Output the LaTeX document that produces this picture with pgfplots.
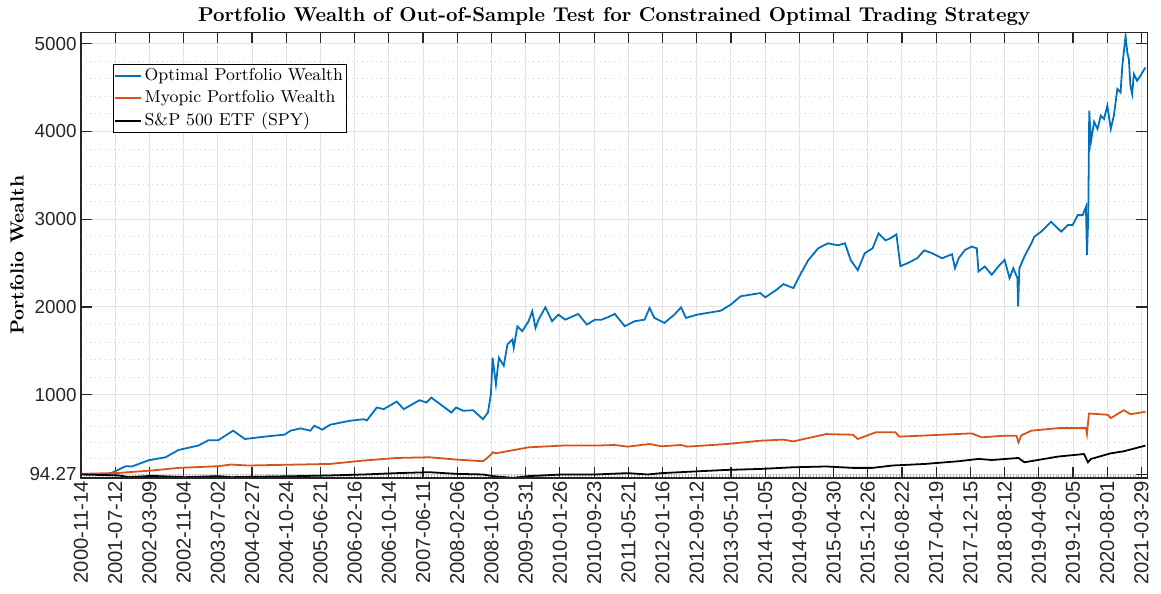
\documentclass[border=0pt]{standalone}
\usepackage{fontspec}
\usepackage{pgfplots}
\pgfplotsset{compat=1.18}
\newfontfamily\tickfont{Liberation Sans}

\definecolor{mblue}{rgb}{0,0.447,0.741}
\definecolor{morange}{rgb}{0.85,0.325,0.098}
\definecolor{axgray}{rgb}{0.15,0.15,0.15}

% day 0 = 2000-11-14, ticks every 240 days
\pgfplotstableread{
day val
0 94
197 94
313 185
357 182
475 253
593 287
684 370
823 420
893 480
962 480
1067 590
1150 495
1289 522
1428 545
1470 590
1540 616
1609 590
1637 647
1692 601
1748 658
1887 703
1985 721
2006 707
2075 854
2124 835
2215 922
2264 835
2375 937
2424 911
2458 967
2514 899
2598 797
2632 854
2681 817
2751 823
2820 721
2855 797
2876 1005
2888 1421
2911 1118
2932 1421
2966 1330
2992 1572
3027 1629
3036 1534
3062 1780
3096 1724
3140 1837
3166 1951
3189 1761
3210 1855
3258 1996
3305 1837
3349 1912
3398 1855
3488 1920
3549 1799
3606 1855
3653 1855
3697 1883
3745 1920
3815 1780
3884 1837
3954 1855
3989 1988
4023 1875
4093 1818
4163 1912
4210 1996
4244 1875
4323 1912
4393 1931
4488 1957
4558 2025
4627 2121
4766 2158
4801 2109
4880 2196
4929 2260
4998 2215
5033 2328
5102 2532
5172 2668
5241 2725
5311 2702
5360 2725
5401 2532
5450 2419
5499 2612
5554 2668
5596 2838
5645 2759
5679 2782
5721 2827
5749 2464
5798 2498
5867 2555
5916 2645
5972 2612
6042 2555
6111 2600
6132 2441
6158 2555
6202 2649
6250 2688
6285 2668
6297 2404
6341 2461
6390 2366
6436 2461
6480 2536
6515 2328
6541 2441
6570 2328
6575 2007
6584 2441
6619 2574
6668 2725
6689 2801
6737 2858
6807 2971
6842 2914
6877 2858
6923 2933
6958 2933
6993 3046
7028 3046
7051 3141
7058 2592
7067 3009
7074 4237
7086 3882
7108 4109
7132 4029
7155 4180
7178 4143
7201 4293
7225 4029
7247 4180
7271 4483
7294 4445
7306 4747
7329 5087
7341 4899
7352 4823
7363 4520
7375 4426
7387 4653
7410 4577
7433 4634
7468 4729
}\optimal

\pgfplotstableread{
day val
0 98
266 109
496 136
684 166
962 185
1053 204
1171 193
1519 204
1748 211
1985 250
2215 279
2444 287
2632 261
2820 242
2862 295
2890 344
2911 332
3140 400
3377 420
3606 420
3745 427
3836 408
3989 438
4072 412
4211 427
4253 408
4532 438
4768 476
4928 488
4998 468
5228 551
5416 544
5450 495
5575 571
5714 571
5742 522
6042 544
6250 559
6320 514
6480 533
6564 533
6577 457
6598 537
6668 590
6856 619
7051 619
7058 551
7072 786
7204 771
7225 733
7316 823
7363 778
7468 805
}\myopic

\pgfplotstableread{
day val
0 91
266 80
336 60
496 75
733 60
962 72
1053 60
1519 72
1748 80
1985 91
2215 106
2444 117
2632 98
2820 91
2890 72
3029 52
3140 72
3377 91
3606 91
3836 106
3975 91
4072 106
4302 125
4532 143
4768 154
4998 173
5228 182
5416 166
5554 166
5693 193
5922 211
6158 242
6297 268
6390 256
6577 279
6619 230
6856 295
7037 324
7065 230
7086 268
7225 332
7316 355
7468 420
}\spy

\pgfplotsset{
  common/.style={
    scale only axis,
    width=537.7pt, height=224.7pt,
    xmin=0, xmax=7482,
    ymin=50, ymax=5128,
    xtick={0,240,...,7440},
    ytick={94.27,1000,2000,3000,4000,5000},
    axis line style={axgray, line width=0.6pt},
    major tick length=5.5pt,
    tick style={axgray, line width=0.6pt},
    tick align=inside,
  },
}

\begin{document}
\begin{tikzpicture}
\begin{axis}[
  common,
  name=main,
  xtick pos=left, ytick pos=left,
  xticklabels={2000-11-14,2001-07-12,2002-03-09,2002-11-04,2003-07-02,2004-02-27,2004-10-24,2005-06-21,2006-02-16,2006-10-14,2007-06-11,2008-02-06,2008-10-03,2009-05-31,2010-01-26,2010-09-23,2011-05-21,2012-01-16,2012-09-12,2013-05-10,2014-01-05,2014-09-02,2015-04-30,2015-12-26,2016-08-22,2017-04-19,2017-12-15,2018-08-12,2019-04-09,2019-12-05,2020-08-01,2021-03-29},
  yticklabels={94.27,1000,2000,3000,4000,5000},
  /pgf/number format/assume math mode=true,
  ticklabel style={text=axgray},
  xticklabel style={font=\tickfont\fontsize{10.2}{12}\selectfont, rotate=90, anchor=east, inner sep=1.5pt},
  yticklabel style={font=\tickfont\fontsize{9.5}{11}\selectfont, inner sep=2pt},
  minor x tick num=11,
  minor tick length=2.2pt,
  minor x tick style={gray!55, line width=0.35pt},
  minor ytick={275.42,456.56,637.71,818.85,1200,1400,1600,1800,2200,2400,2600,2800,3200,3400,3600,3800,4200,4400,4600,4800},
  minor y tick style={draw=none},
  xmajorgrids=true, ymajorgrids=true, yminorgrids=true, xminorgrids=false,
  major grid style={gray!22, line width=0.5pt},
  minor grid style={gray!35, line width=0.4pt, dotted},
  title={Portfolio Wealth of Out-of-Sample Test for Constrained Optimal Trading Strategy},
  title style={font=\bfseries\fontsize{10.1}{12}\selectfont, at={(axis description cs:0.5,1)}, anchor=base, yshift=-0.6pt},
  ylabel={Portfolio Wealth},
  ylabel style={font=\bfseries\fontsize{9.6}{11}\selectfont, at={(axis description cs:-0.0601,0.5)}, anchor=center},
  legend style={at={(0.030,0.930)}, anchor=north west, draw=black, line width=0.5pt,
    font=\fontsize{8.7}{10}\selectfont, inner sep=0.5pt, row sep=0pt,
    nodes={inner sep=1.2pt, text height=6.6pt, text depth=2.2pt}},
  legend cell align=left,
  legend image code/.code={\draw[#1, line width=1pt] (0pt,0pt) -- (13pt,0pt);},
]
\addplot[mblue, line width=0.9pt] table[x=day, y=val] {\optimal};
\addplot[morange, line width=0.9pt] table[x=day, y=val] {\myopic};
\addplot[black, line width=0.9pt] table[x=day, y=val] {\spy};
\legend{Optimal Portfolio Wealth, Myopic Portfolio Wealth, S\&P 500 ETF (SPY)}
\end{axis}
\begin{axis}[
  common,
  xtick pos=right, ytick pos=right,
  xticklabels={}, yticklabels={},
]
\end{axis}
\path ([xshift=-40.85pt,yshift=-58pt]main.south west) rectangle ([xshift=2pt,yshift=16.35pt]main.north east);
\end{tikzpicture}
\end{document}
